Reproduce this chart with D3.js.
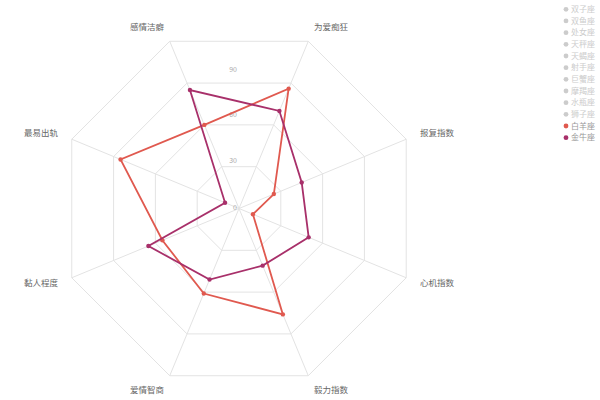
<!DOCTYPE html>
<html>
<head>
<meta charset="utf-8">
<script src="https://cdn.jsdelivr.net/npm/d3@7"></script>
<style>
    body { margin: 0; background: #fff; }
    text { font-family: "Noto Sans CJK SC", "Noto Sans", sans-serif; }
</style>
</head>
<body>
<div id="radar_chart"></div>
<script>
// Indicators, clockwise from the upper right
var indicators = ["为爱痴狂", "报复指数", "心机指数", "毅力指数", "爱情智商", "黏人程度", "最易出轨", "感情洁癖"];
// Legend entries (only the last two are switched on)
var signs = ["双子座", "双鱼座", "处女座", "天秤座", "天蝎座", "射手座", "巨蟹座", "摩羯座", "水瓶座", "狮子座", "白羊座", "金牛座"];
var shownSigns = ["白羊座", "金牛座"];
var signColors = ["#e0594f", "#a8306a"];
// Values per indicator
var ariesValues = [86, 25, 10, 76, 61, 55, 85, 60];
var taurusValues = [70, 45, 50, 41, 51, 65, 10, 85];
// Grid levels and tick labels
var levels = [30, 60, 90, 120];
var tickLabels = [0, 30, 60, 90];
var maxValue = 120;

var width, height, cx, cy, radius, svg, rScale, angle;

function drawGrid(g) {
    // Polygon rings
    var ring = d3.lineRadial()
        .angle(function (d, i) { return angle(i); })
        .radius(function (d) { return rScale(d); })
        .curve(d3.curveLinearClosed);

    g.selectAll(".ring")
        .data(levels)
        .enter()
        .append("path")
        .attr("class", "ring")
        .attr("d", function (lv) { return ring(indicators.map(function () { return lv; })); })
        .attr("fill", "none")
        .attr("stroke", "#e3e3e3")
        .attr("stroke-width", 1);

    // Spokes
    g.selectAll(".spoke")
        .data(indicators)
        .enter()
        .append("line")
        .attr("class", "spoke")
        .attr("x1", 0)
        .attr("y1", 0)
        .attr("x2", function (d, i) { return rScale(maxValue) * Math.sin(angle(i)); })
        .attr("y2", function (d, i) { return -rScale(maxValue) * Math.cos(angle(i)); })
        .attr("stroke", "#e3e3e3")
        .attr("stroke-width", 1);

    // Tick labels up the middle
    g.selectAll(".tick-label")
        .data(tickLabels)
        .enter()
        .append("text")
        .attr("class", "tick-label")
        .attr("x", -2)
        .attr("y", function (d) { return -rScale(d) - (d > 0 ? 3 : 1); })
        .attr("dy", "0.35em")
        .attr("text-anchor", "end")
        .attr("font-size", 7)
        .attr("fill", "#aaa")
        .text(function (d) { return d; });

    // Indicator names
    g.selectAll(".axis-name")
        .data(indicators)
        .enter()
        .append("text")
        .attr("class", "axis-name")
        .attr("x", function (d, i) { return (rScale(maxValue) + 15) * Math.sin(angle(i)); })
        .attr("y", function (d, i) { return -(rScale(maxValue) + 15) * Math.cos(angle(i)); })
        .attr("dy", "0.35em")
        .attr("text-anchor", function (d, i) { return Math.sin(angle(i)) > 0 ? "start" : "end"; })
        .attr("font-size", 8.5)
        .attr("fill", "#666")
        .text(function (d) { return d; });
}

function drawSeries(g, values, color) {
    var line = d3.lineRadial()
        .angle(function (d, i) { return angle(i); })
        .radius(function (d) { return rScale(d); })
        .curve(d3.curveLinearClosed);

    g.append("path")
        .datum(values)
        .attr("d", line)
        .attr("fill", "none")
        .attr("stroke", color)
        .attr("stroke-width", 1.8);

    g.selectAll(null)
        .data(values)
        .enter()
        .append("circle")
        .attr("cx", function (d, i) { return rScale(d) * Math.sin(angle(i)); })
        .attr("cy", function (d, i) { return -rScale(d) * Math.cos(angle(i)); })
        .attr("r", 2.2)
        .attr("fill", color);
}

function drawLegend() {
    var legend = svg.append("g")
        .attr("transform", "translate(566,9.3)");

    var item = legend.selectAll(".item")
        .data(signs)
        .enter()
        .append("g")
        .attr("class", "item")
        .attr("transform", function (d, i) { return "translate(0," + (i * 11.67) + ")"; });

    item.append("circle")
        .attr("r", 2.4)
        .attr("fill", function (d) {
            var k = shownSigns.indexOf(d);
            return k < 0 ? "#ccc" : signColors[k];
        });

    item.append("text")
        .attr("x", 5)
        .attr("dy", "0.35em")
        .attr("font-size", 8)
        .attr("fill", function (d) { return shownSigns.indexOf(d) < 0 ? "#ccc" : "#999"; })
        .text(function (d) { return d; });
}

function init() {
    width = 600;
    height = 400;
    cx = 239;
    cy = 208.5;
    radius = 181;

    svg = d3.select("#radar_chart")
        .append("svg")
        .attr("width", width)
        .attr("height", height);

    rScale = d3.scaleLinear()
        .domain([0, maxValue])
        .range([0, radius]);

    // 8 axes, first one 22.5 degrees right of straight up
    angle = d3.scaleLinear()
        .domain([0, indicators.length])
        .range([Math.PI / 8, Math.PI / 8 + 2 * Math.PI]);

    var g = svg.append("g")
        .attr("transform", "translate(" + cx + "," + cy + ")");

    drawGrid(g);
    drawSeries(g, ariesValues, signColors[0]);
    drawSeries(g, taurusValues, signColors[1]);
    drawLegend();
}

window.onload = init;
</script>
</body>
</html>
